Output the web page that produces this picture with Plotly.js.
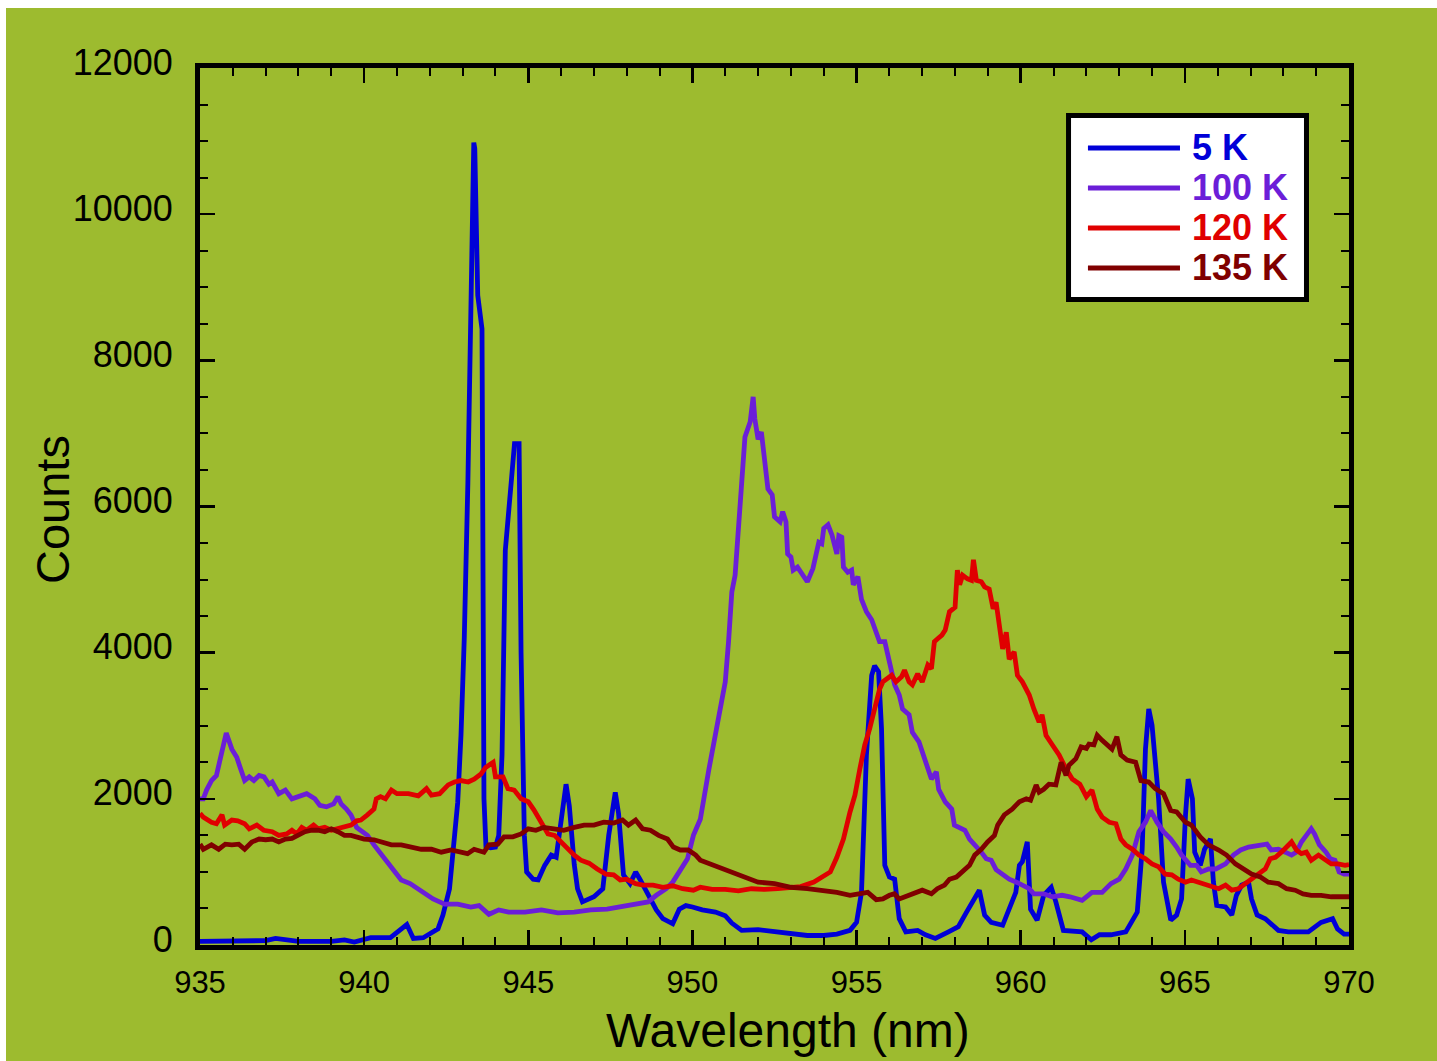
<!DOCTYPE html>
<html>
<head>
<meta charset="utf-8">
<script src="https://cdn.plot.ly/plotly-3.0.1.min.js"></script>
<style>
html,body{margin:0;padding:0;background:#ffffff;}
#chart{position:absolute;left:6px;top:8px;width:1431px;height:1053px;}
</style>
</head>
<body>
<div id="chart"></div>
<script>
// ---- data ----
const seriesNames = ["5 K", "100 K", "120 K", "135 K"];
const seriesColors = ["#0000D8", "#6B1ED8", "#E00000", "#800000"];

const wl5K = [935.0,935.5,936.5,937.0,937.3,937.6,938.0,939.0,939.4,939.7,940.2,940.8,941.0,941.3,941.5,941.8,942.25,942.4,942.6,942.75,942.85,942.95,943.05,943.16,943.25,943.3,943.34,943.37,943.42,943.46,943.59,943.65,943.71,943.85,944.0,944.1,944.2,944.3,944.48,944.58,944.72,944.78,944.88,944.95,945.15,945.3,945.5,945.7,945.85,946.0,946.15,946.25,946.4,946.5,946.65,947.0,947.27,947.45,947.65,947.75,947.9,948.1,948.27,948.4,948.65,948.9,949.1,949.4,949.6,949.8,950.0,950.3,950.7,951.0,951.2,951.5,952.0,952.5,953.0,953.5,954.0,954.4,954.8,955.0,955.15,955.3,955.46,955.55,955.67,955.76,955.86,956.0,956.16,956.3,956.5,956.86,957.1,957.4,957.8,958.1,958.35,958.6,958.74,958.9,959.1,959.45,959.65,959.85,959.96,960.05,960.2,960.3,960.5,960.7,960.93,961.07,961.3,961.87,962.15,962.4,962.75,963.2,963.55,963.7,963.8,963.9,964.0,964.2,964.35,964.57,964.75,964.9,965.02,965.1,965.23,965.3,965.47,965.6,965.78,965.87,965.97,966.24,966.43,966.57,966.73,966.94,967.03,967.2,967.45,967.85,968.15,968.76,969.15,969.5,969.65,969.85,970.0];
const counts5K = [50,50,50,60,90,70,50,50,70,40,100,100,180,280,90,100,220,410,770,1500,1950,2870,4200,6330,8400,10200,10980,10900,9500,8890,8430,2000,1350,1330,1340,1500,2600,5400,6330,6860,6860,4000,1500,1000,900,890,1090,1230,1200,1700,2200,1900,1100,770,590,660,770,1500,2090,1800,960,840,1000,900,700,480,360,290,490,540,520,480,450,400,300,200,210,180,160,130,130,150,200,310,720,2600,3690,3820,3740,2960,1090,930,900,360,180,200,140,90,180,250,450,630,750,410,310,270,490,720,1090,1140,1410,490,340,680,790,590,200,180,70,140,140,180,450,1310,2680,3230,3010,2000,860,340,410,630,1780,2270,2000,1270,1090,1310,1450,860,540,520,410,680,820,860,630,410,360,200,180,180,310,360,220,150,150];

const wl100K = [935.0,935.1,935.2,935.35,935.5,935.67,935.8,935.97,936.12,936.2,936.36,936.5,936.64,936.8,936.95,937.1,937.2,937.4,937.6,937.8,938.0,938.25,938.5,938.65,938.85,939.07,939.2,939.3,939.46,939.6,939.77,939.9,940.1,940.3,940.5,940.7,940.9,941.13,941.4,941.65,941.85,942.1,942.45,942.85,943.25,943.5,943.8,944.1,944.4,944.9,945.4,945.9,946.4,946.9,947.4,947.9,948.4,948.65,948.9,949.2,949.4,949.6,949.85,950.03,950.24,950.5,950.75,951.0,951.1,951.2,951.3,951.4,951.5,951.6,951.76,951.85,951.9,952.0,952.1,952.2,952.3,952.43,952.5,952.67,952.75,952.85,952.9,953.0,953.07,953.2,953.37,953.5,953.67,953.85,953.94,954.0,954.13,954.25,954.4,954.46,954.55,954.6,954.73,954.85,954.9,955.04,955.15,955.3,955.46,955.55,955.7,955.86,955.95,956.07,956.16,956.3,956.4,956.6,956.7,956.9,957.07,957.28,957.43,957.5,957.7,957.9,957.98,958.2,958.3,958.44,958.6,958.8,958.95,959.1,959.25,959.45,959.65,959.87,960.05,960.26,960.4,960.7,960.96,961.26,961.5,961.87,962.17,962.48,962.75,963.0,963.2,963.4,963.6,963.8,963.96,964.15,964.35,964.57,964.75,964.9,965.17,965.36,965.5,965.72,965.94,966.24,966.48,966.7,966.94,967.24,967.5,967.63,967.85,968.06,968.25,968.4,968.55,968.7,968.85,968.95,969.1,969.3,969.43,969.57,969.7,969.85,970.0];
const counts100K = [2000,2000,2120,2250,2320,2680,2900,2680,2570,2460,2250,2300,2250,2320,2300,2200,2230,2070,2120,2000,2030,2070,2000,1910,1890,1930,2030,1930,1860,1780,1610,1570,1500,1370,1250,1140,1030,890,840,770,700,630,560,560,520,540,420,480,450,450,480,440,450,480,490,530,560,590,680,770,860,1000,1180,1500,1720,2400,3000,3600,4150,4830,5060,5700,6340,6950,7160,7500,7200,6920,7020,6650,6240,6160,5860,5790,5930,5790,5350,5310,5130,5170,5060,4970,5150,5510,5490,5700,5750,5610,5350,5600,5580,5170,5100,5130,4930,5040,4730,4560,4450,4350,4150,4150,3970,3690,3560,3420,3230,3150,2910,2780,2550,2270,2370,2130,1960,1860,1640,1590,1570,1450,1380,1270,1180,1160,1030,970,900,860,820,770,700,700,660,680,660,610,720,720,840,900,1040,1230,1550,1680,1840,1680,1550,1450,1340,1230,1090,1090,1000,1040,1040,1110,1230,1300,1340,1370,1380,1300,1310,1270,1230,1270,1410,1500,1590,1520,1370,1270,1180,1160,1000,970,970];

const wl120K = [935.0,935.1,935.35,935.5,935.67,935.75,935.97,936.15,936.36,936.5,936.73,936.94,937.2,937.4,937.64,937.8,937.95,938.1,938.25,938.46,938.6,938.8,939.0,939.2,939.4,939.6,939.77,939.9,940.1,940.3,940.37,940.5,940.65,940.83,941.0,941.35,941.65,941.9,942.05,942.3,942.56,942.75,942.95,943.17,943.35,943.56,943.7,943.93,944.0,944.23,944.38,944.57,944.78,945.0,945.17,945.4,945.6,945.8,946.0,946.2,946.4,946.6,946.85,947.1,947.36,947.6,947.8,948.0,948.27,948.5,948.8,949.1,949.4,949.7,950.03,950.24,950.6,951.0,951.4,951.8,952.2,952.6,953.0,953.3,953.7,954.0,954.2,954.4,954.6,954.8,954.95,955.1,955.25,955.4,955.55,955.7,955.8,955.95,956.07,956.2,956.37,956.46,956.6,956.7,956.86,957.0,957.07,957.17,957.28,957.37,957.47,957.6,957.7,957.83,958.0,958.07,958.14,958.23,958.38,958.5,958.56,958.65,958.8,958.9,959.04,959.16,959.25,959.35,959.45,959.56,959.65,959.8,959.9,960.05,960.26,960.4,960.56,960.65,960.77,960.96,961.17,961.38,961.57,961.8,962.0,962.17,962.33,962.48,962.7,962.9,963.05,963.2,963.4,963.6,963.8,964.0,964.2,964.4,964.6,964.8,965.02,965.2,965.42,965.63,965.81,966.03,966.24,966.43,966.63,966.85,967.03,967.24,967.45,967.6,967.76,967.94,968.1,968.25,968.4,968.55,968.7,968.85,969.07,969.27,969.46,969.67,969.88,970.0];
const counts120K = [1800,1750,1680,1660,1780,1640,1710,1700,1660,1590,1640,1570,1550,1500,1520,1570,1520,1610,1570,1640,1590,1610,1570,1590,1610,1640,1700,1710,1780,1860,2000,2030,2000,2120,2070,2070,2040,2140,2050,2070,2190,2230,2250,2230,2270,2340,2430,2500,2300,2300,2140,2120,2000,1960,1850,1680,1520,1500,1410,1300,1230,1160,1120,1040,970,960,890,900,840,820,820,790,810,770,750,790,760,760,740,770,760,770,790,800,860,950,1000,1200,1450,1820,2050,2410,2740,2960,3230,3500,3600,3640,3690,3600,3670,3760,3600,3560,3710,3600,3690,3830,3780,4150,4190,4240,4310,4560,4620,5130,4930,5060,5010,4990,5270,4990,4970,4900,4870,4600,4690,4380,4050,4280,3910,4010,3690,3600,3420,3230,3050,3150,2870,2740,2600,2410,2270,2200,2030,2120,1860,1750,1680,1660,1450,1370,1310,1230,1180,1110,1070,970,960,900,860,890,860,820,790,770,820,750,770,840,890,960,1040,1180,1200,1270,1340,1410,1300,1250,1270,1160,1230,1160,1110,1110,1090,1100];

const wl135K = [935.0,935.1,935.35,935.57,935.77,935.97,936.18,936.36,936.58,936.8,937.0,937.2,937.4,937.6,937.8,938.0,938.2,938.4,938.6,938.8,939.0,939.2,939.4,939.6,939.8,940.0,940.3,940.5,940.83,941.13,941.4,941.74,942.05,942.35,942.65,942.95,943.15,943.35,943.65,943.8,944.07,944.26,944.53,944.78,945.0,945.23,945.47,945.78,946.08,946.4,946.7,947.0,947.3,947.6,947.87,948.05,948.27,948.48,948.72,948.97,949.24,949.42,949.63,949.87,950.1,950.24,950.6,951.0,951.4,951.7,952.0,952.5,953.0,953.5,954.0,954.4,954.8,955.1,955.34,955.6,955.8,956.0,956.15,956.3,956.5,956.77,957.0,957.28,957.46,957.68,957.83,958.04,958.23,958.44,958.6,958.8,958.99,959.2,959.3,959.5,959.74,959.96,960.17,960.3,960.47,960.56,960.7,960.86,961.07,961.23,961.38,961.47,961.68,961.84,962.0,962.08,962.23,962.33,962.48,962.63,962.78,962.93,963.05,963.24,963.5,963.66,963.9,964.1,964.35,964.57,964.75,965.02,965.2,965.47,965.72,966.03,966.27,966.54,966.79,967.03,967.3,967.54,967.85,968.1,968.36,968.6,968.85,969.15,969.46,969.88,970.0];
const counts135K = [1380,1310,1370,1310,1380,1370,1380,1310,1410,1450,1440,1450,1410,1450,1460,1500,1550,1570,1570,1550,1590,1550,1500,1500,1480,1450,1440,1410,1370,1370,1340,1310,1310,1270,1300,1270,1250,1310,1270,1370,1380,1480,1480,1520,1590,1570,1610,1590,1570,1610,1640,1640,1680,1670,1710,1640,1710,1590,1570,1500,1450,1340,1300,1300,1230,1160,1100,1030,970,920,860,840,790,770,750,720,680,700,720,620,630,680,700,630,660,700,750,700,770,820,900,930,1000,1090,1230,1310,1410,1500,1640,1780,1860,1960,2000,1980,2190,2090,2130,2200,2190,2500,2320,2460,2550,2710,2690,2750,2740,2870,2800,2750,2680,2850,2600,2530,2500,2250,2230,2140,2070,1840,1820,1680,1640,1480,1370,1300,1230,1110,1040,970,930,860,840,770,750,700,680,680,660,660,660];

const xTickVals = [935, 940, 945, 950, 955, 960, 965, 970];
const yTickVals = [0, 2000, 4000, 6000, 8000, 10000, 12000];
const xTitle = 'Wavelength (nm)';
const yTitle = 'Counts';

// ---- chart ----
const xs = [wl5K, wl100K, wl120K, wl135K];
const ys = [counts5K, counts100K, counts120K, counts135K];
const traces = seriesNames.map((n, i) => ({
  type: 'scatter', mode: 'lines',
  x: xs[i], y: ys[i], name: n,
  line: {color: seriesColors[i], width: 4.8, shape: 'linear'},
  hoverinfo: 'skip', showlegend: false
}));

const FONT = 'Liberation Sans, Arial, Helvetica, sans-serif';
const green = '#9DBB2F';

// legend box drawn in paper coordinates (right upper corner of the plot)
const LEG = {x0: 0.7559, x1: 0.9630, y0: 0.7360, y1: 0.9458,
             lx0: 0.7728, lx1: 0.8529, tx: 0.8616, top: 0.9088, step: 0.04561};
const shapes = [{
  type: 'rect', xref: 'paper', yref: 'paper',
  x0: LEG.x0, x1: LEG.x1, y0: LEG.y0, y1: LEG.y1,
  fillcolor: '#ffffff', line: {color: '#000000', width: 5}, layer: 'above'
}];
const annotations = [];
seriesNames.forEach((n, i) => {
  const yy = LEG.top - i * LEG.step;
  shapes.push({type: 'line', xref: 'paper', yref: 'paper',
    x0: LEG.lx0, x1: LEG.lx1, y0: yy, y1: yy,
    line: {color: seriesColors[i], width: 4.8}, layer: 'above'});
  annotations.push({xref: 'paper', yref: 'paper', x: LEG.tx, y: yy,
    xanchor: 'left', yanchor: 'middle', showarrow: false,
    text: '<b>' + n + '</b>', font: {family: FONT, size: 36, color: seriesColors[i]}});
});
annotations.push({xref: 'paper', yref: 'paper', x: 0.5117, y: -0.097,
  xanchor: 'center', yanchor: 'middle', showarrow: false,
  text: xTitle, font: {family: FONT, size: 48, color: '#000'}});
annotations.push({xref: 'paper', yref: 'paper', x: -0.1288, y: 0.496,
  xanchor: 'center', yanchor: 'middle', showarrow: false, textangle: -90,
  text: yTitle, font: {family: FONT, size: 47, color: '#000'}});

const layout = {
  width: 1431, height: 1053,
  paper_bgcolor: green, plot_bgcolor: green,
  margin: {l: 194, r: 88, t: 60, b: 116, pad: 0},
  font: {family: FONT, color: '#000'},
  showlegend: false,
  shapes: shapes,
  annotations: annotations,
  xaxis: {
    range: [935, 970], tickvals: xTickVals, ticktext: xTickVals.map(String),
    ticks: 'inside', ticklen: 15, tickwidth: 2.5, tickcolor: '#000',
    minor: {dtick: 1, ticks: 'inside', ticklen: 8, tickwidth: 2, tickcolor: '#000', showgrid: false},
    showline: true, linewidth: 5, linecolor: '#000', mirror: 'ticks',
    showgrid: false, zeroline: false,
    tickfont: {family: FONT, size: 31, color: '#000'},
    ticklabelstandoff: 6
  },
  yaxis: {
    range: [0, 12000], tickvals: yTickVals, ticktext: yTickVals.map(String),
    ticks: 'inside', ticklen: 15, tickwidth: 2.5, tickcolor: '#000',
    minor: {dtick: 500, ticks: 'inside', ticklen: 8, tickwidth: 2, tickcolor: '#000', showgrid: false},
    showline: true, linewidth: 5, linecolor: '#000', mirror: 'ticks',
    showgrid: false, zeroline: false,
    tickfont: {family: FONT, size: 36, color: '#000'},
    ticklabelstandoff: 15, ticklabelshift: -6
  }
};

Plotly.newPlot('chart', traces, layout, {displayModeBar: false, staticPlot: true});
</script>
</body>
</html>
